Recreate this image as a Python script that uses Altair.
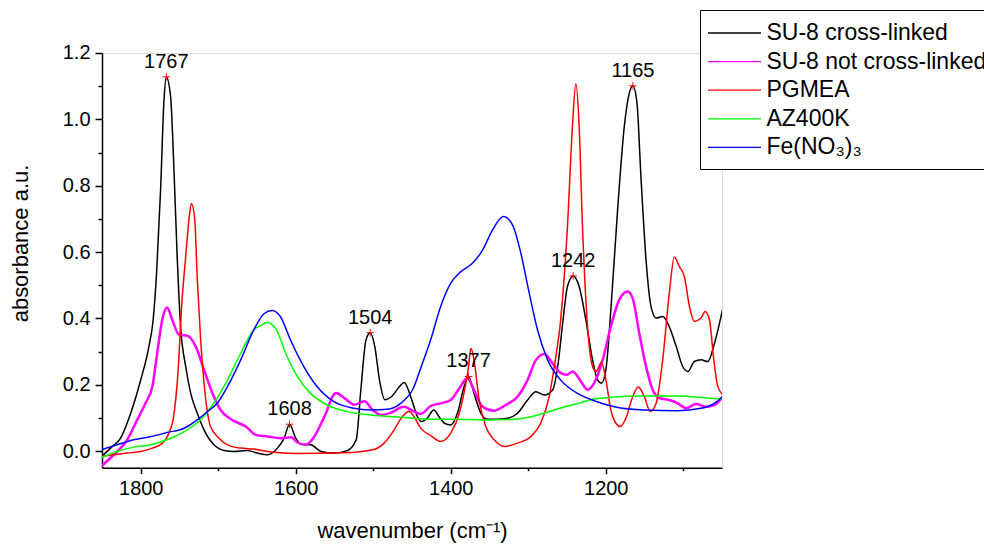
import altair as alt
import pandas as pd

FONT = "Liberation Sans, Arial, sans-serif"

names = ["SU-8 cross-linked", "SU-8 not cross-linked", "PGMEA", "AZ400K", "Fe(NO\u2083)\u2083"]
colors = ["#000000", "#ff00ff", "#ff0000", "#00ff00", "#0000ff"]

black_w = [1852, 1839, 1826, 1813, 1800, 1789.5, 1784, 1779.6, 1774.4, 1770, 1767, 1761.5, 1757, 1753, 1748.6,
           1742, 1735.6, 1727, 1718.4, 1705.5, 1692.5, 1680, 1662.4, 1649.6, 1636.5, 1623.6, 1615, 1608, 1600,
           1593.4, 1580.5, 1567.5, 1550, 1533, 1522, 1516, 1509.4, 1504, 1498, 1492, 1485, 1477, 1466, 1460,
           1451.6, 1443, 1438, 1430, 1422, 1414, 1408, 1400, 1391.4, 1382.8, 1377, 1370, 1361, 1352.6, 1339.7,
           1326.7, 1313.8, 1300.9, 1290, 1279.3, 1268.6, 1262, 1255.6, 1249.4, 1242, 1234.3, 1225.7, 1217,
           1210.6, 1205.4, 1199.8, 1193.4, 1184.7, 1176, 1169.6, 1165, 1159.7, 1154.6, 1148, 1141.6, 1135,
           1126.5, 1118, 1109, 1100.7, 1094, 1085.6, 1077, 1068.4, 1059.7, 1049]
black_a = [-0.02, 0.009, 0.039, 0.114, 0.215, 0.315, 0.396, 0.536, 0.788, 1.059, 1.128, 1.069, 0.838, 0.587, 0.376,
           0.255, 0.175, 0.114, 0.064, 0.019, 0.002, -0.001, 0.002, -0.006, -0.011, 0.009, 0.039, 0.081, 0.039,
           0.021, 0.019, -0.001, -0.006, 0.002, 0.034, 0.185, 0.335, 0.357, 0.315, 0.215, 0.155, 0.163, 0.195, 0.207,
           0.164, 0.104, 0.089, 0.1, 0.124, 0.1, 0.084, 0.079, 0.114, 0.194, 0.225, 0.174, 0.114, 0.096, 0.096,
           0.099, 0.114, 0.154, 0.179, 0.169, 0.184, 0.255, 0.385, 0.496, 0.528, 0.496, 0.396, 0.275,
           0.215, 0.205, 0.245, 0.426, 0.727, 0.98, 1.079, 1.101, 1.049, 0.828, 0.576, 0.436, 0.401,
           0.406, 0.375, 0.315, 0.255, 0.24, 0.27, 0.275, 0.27, 0.325, 0.43]

magenta_w = [1852, 1834.8, 1817.5, 1804.6, 1793.8, 1785, 1778.8, 1772.3, 1766, 1759.4, 1750.7, 1740, 1729, 1718.4,
             1707.6, 1697, 1682, 1664.5, 1651.6, 1636.5, 1619, 1606, 1598, 1587, 1576, 1563, 1548, 1537.4, 1524.4,
             1511.5, 1500.7, 1490, 1477, 1464, 1460, 1447.4, 1438.8, 1426, 1413, 1400, 1389, 1378.5, 1370, 1359,
             1344, 1329, 1313.8, 1301, 1290, 1279, 1268.6, 1257.8, 1250, 1242.7, 1232, 1223.5, 1215, 1204, 1193.4,
             1182.6, 1171.8, 1165.3, 1156.7, 1148, 1139.5, 1131, 1118, 1107, 1096.4, 1083.4, 1070.5, 1059.7, 1049]
magenta_a = [-0.048, -0.011, 0.034, 0.094, 0.145, 0.195, 0.295, 0.396, 0.433, 0.396, 0.351, 0.348, 0.315, 0.245,
             0.175, 0.124, 0.094, 0.074, 0.049, 0.044, 0.039, 0.042, 0.026, 0.019, 0.044, 0.104, 0.175, 0.16, 0.14,
             0.15, 0.124, 0.109, 0.116, 0.132, 0.134, 0.119, 0.112, 0.136, 0.144, 0.154, 0.189, 0.22, 0.184, 0.134,
             0.122, 0.139, 0.164, 0.214, 0.275, 0.293, 0.265, 0.235, 0.23, 0.24, 0.21, 0.185, 0.205, 0.275, 0.376,
             0.456, 0.481, 0.461, 0.355, 0.255, 0.185, 0.16, 0.154, 0.144, 0.129, 0.142, 0.134, 0.139, 0.164]

red_w = [1852, 1834.8, 1817.5, 1800, 1785, 1772, 1763.7, 1757, 1752, 1747.3, 1742, 1737.8, 1734.8, 1730.5, 1727,
         1722.7, 1717.5, 1710, 1699, 1688, 1671, 1654, 1632, 1600, 1538, 1499, 1486, 1473, 1462.4, 1453.8, 1447.4,
         1439, 1426, 1413, 1400, 1389, 1383, 1377, 1374, 1370, 1363.4, 1354.8, 1344, 1331, 1313.8, 1296.6, 1284,
         1273, 1266.4, 1258, 1249.4, 1243, 1238.6, 1234.3, 1230, 1223.5, 1217, 1212.7, 1205.4, 1199.8, 1193.4,
         1186.9, 1181.3, 1174, 1165.3, 1158, 1150.2, 1142.5, 1135, 1126.5, 1118, 1111.5, 1105, 1098.5, 1092,
         1085.6, 1077, 1071.8, 1066.2, 1060.6, 1055.4, 1049]
red_a = [-0.016, -0.011, -0.006, -0.001, 0.009, 0.024, 0.054, 0.114, 0.235, 0.436, 0.587, 0.697, 0.746, 0.702, 0.516,
         0.335, 0.185, 0.074, 0.039, 0.019, 0.009, 0.006, -0.003, -0.007, -0.005, 0.005, 0.024, 0.064, 0.104, 0.119, 0.104,
         0.07, 0.047, 0.029, 0.054, 0.114, 0.174, 0.255, 0.31, 0.275, 0.154, 0.074, 0.034, 0.014, 0.024, 0.044, 0.084,
         0.164, 0.255, 0.4, 0.677, 0.978, 1.107, 0.978, 0.677, 0.376, 0.255, 0.24, 0.267, 0.215, 0.124,
         0.084, 0.074, 0.099, 0.164, 0.193, 0.164, 0.119, 0.144, 0.275, 0.476, 0.585, 0.556, 0.526, 0.436,
         0.391, 0.401, 0.421, 0.396, 0.275, 0.195, 0.17]

green_w = [1852, 1830.5, 1809, 1787, 1766, 1744, 1723, 1705.5, 1688, 1671, 1654, 1645.6, 1637, 1626, 1613, 1598,
           1581, 1559.4, 1533.5, 1503.4, 1464.6, 1425.8, 1395.7, 1352.6, 1318, 1292, 1266.4, 1250, 1232, 1215,
           1193, 1150, 1107, 1073, 1049]
green_a = [-0.021, -0.001, 0.012, 0.019, 0.034, 0.059, 0.094, 0.145, 0.215, 0.295, 0.366, 0.378, 0.388, 0.37, 0.295,
           0.225, 0.174, 0.139, 0.119, 0.109, 0.102, 0.096, 0.096, 0.094, 0.096, 0.106, 0.124, 0.135, 0.146, 0.157,
           0.162, 0.166, 0.166, 0.161, 0.156]

blue_w = [1852, 1830.5, 1809, 1787, 1766, 1744, 1727, 1714, 1701, 1688, 1671, 1654, 1641, 1630.5, 1619.7, 1606.8,
          1589.6, 1572.3, 1550.8, 1525, 1503.4, 1482, 1464.6, 1447.4, 1438.8, 1426, 1413, 1400, 1387, 1372, 1359,
          1346, 1332, 1320.3, 1309.5, 1298.7, 1288, 1275, 1258, 1236.5, 1215, 1189, 1150, 1107, 1077, 1059.7, 1049]
blue_a = [0.003, 0.019, 0.034, 0.044, 0.056, 0.069, 0.094, 0.119, 0.145, 0.195, 0.275, 0.366, 0.414, 0.424, 0.405,
          0.335, 0.255, 0.194, 0.149, 0.129, 0.124, 0.126, 0.144, 0.194, 0.25, 0.335, 0.436, 0.506, 0.541, 0.566,
          0.606, 0.667, 0.707, 0.682, 0.596, 0.476, 0.365, 0.275, 0.214, 0.174, 0.152, 0.134, 0.124, 0.122, 0.129,
          0.144, 0.164]

peak_w = [1767, 1608, 1504, 1377, 1242, 1165]
peak_a = [1.128, 0.081, 0.357, 0.225, 0.528, 1.101]
peak_text = ["1767", "1608", "1504", "1377", "1242", "1165"]

x_major = [1800, 1600, 1400, 1200]
x_minor = [1700, 1500, 1300, 1100]
y_major = [0.0, 0.2, 0.4, 0.6, 0.8, 1.0, 1.2]
y_minor = [0.1, 0.3, 0.5, 0.7, 0.9, 1.1]

series = [(names[0], black_w, black_a), (names[1], magenta_w, magenta_a), (names[2], red_w, red_a),
          (names[3], green_w, green_a), (names[4], blue_w, blue_a)]
rows = []
for order, (nm, ws, as_) in enumerate(series):
    for w, a in zip(ws, as_):
        rows.append({"series": nm, "w": w, "a": a, "k": order})
df = pd.DataFrame(rows)
peaks = pd.DataFrame({"w": peak_w, "a": peak_a, "t": peak_text})

xs = alt.Scale(domain=[1850, 1050], nice=False, zero=False)
ys = alt.Scale(domain=[-0.05, 1.2], nice=False, zero=False)

axis_common = dict(grid=False, domainColor="black", tickColor="black", domainWidth=1.5, tickWidth=1.5,
                   labelFont=FONT, titleFont=FONT, labelColor="black", titleColor="black",
                   labelFontSize=20, titleFontSize=22, titleFontWeight="normal")

lines = alt.Chart(df).mark_line(interpolate="monotone", clip=True).encode(
    x=alt.X("w:Q", scale=xs, axis=alt.Axis(values=x_major, orient="bottom", tickSize=6, labelPadding=5,
                                           format="d", title="wavenumber (cm\u207b\u00b9)",
                                           titleX=310, titleY=70, titleBaseline="alphabetic",
                                           titleAlign="center", **axis_common)),
    y=alt.Y("a:Q", scale=ys, axis=alt.Axis(values=y_major, orient="left", tickSize=7, labelPadding=5,
                                           format=".1f", title="absorbance a.u.", titleAngle=-90,
                                           titleX=-75, titleY=190, titleBaseline="alphabetic",
                                           titleAlign="center", **axis_common)),
    color=alt.Color("series:N", scale=alt.Scale(domain=names, range=colors), sort=names,
                    legend=alt.Legend(title=None, orient="none", legendX=598, legendY=-43,
                                      symbolType="M-2,0L2,0", symbolSize=702, symbolStrokeWidth=1.3,
                                      symbolOffset=11.5, labelOffset=18, rowPadding=2.6, padding=9,
                                      strokeColor="black", fillColor="white", labelFont=FONT,
                                      labelFontSize=23, labelColor="black", labelLimit=400,
                                      labelBaseline="middle")),
    strokeWidth=alt.condition(f"datum.series === '{names[1]}'", alt.value(2.5), alt.value(1.5)),
    order=alt.Order("w:Q", sort="descending"),
    detail="k:N",
)

minor = alt.Chart(peaks).mark_point(opacity=0).encode(
    x=alt.X("w:Q", scale=xs, axis=alt.Axis(values=x_minor, orient="bottom", tickSize=3, labels=False,
                                           domain=False, grid=False, title=None, tickColor="black",
                                           tickWidth=1.5)),
    y=alt.Y("a:Q", scale=ys, axis=alt.Axis(values=y_minor, orient="left", tickSize=4, labels=False,
                                           domain=False, grid=False, title=None, tickColor="black",
                                           tickWidth=1.5)),
)

markers = alt.Chart(peaks).mark_point(shape="M-1,0L1,0M0,-1L0,1", size=56, color="#ff0000", filled=False,
                                      strokeWidth=1, opacity=1).encode(
    x=alt.X("w:Q", scale=xs, axis=None), y=alt.Y("a:Q", scale=ys, axis=None))
labels = alt.Chart(peaks).mark_text(dy=-9, baseline="alphabetic", align="center", font=FONT, fontSize=20,
                                    color="black").encode(
    x=alt.X("w:Q", scale=xs, axis=None), y=alt.Y("a:Q", scale=ys, axis=None), text="t:N")

chart = alt.layer(lines, minor, markers, labels).resolve_axis(x="independent", y="independent").properties(
    width=620, height=414.7,
    autosize=alt.AutoSizeParams(type="none"),
    padding={"left": 102, "top": 53, "right": 262, "bottom": 77},
).configure_view(stroke=None).configure(background="white")

chart.save("out.html", embed_options={"renderer": "svg", "actions": False})
